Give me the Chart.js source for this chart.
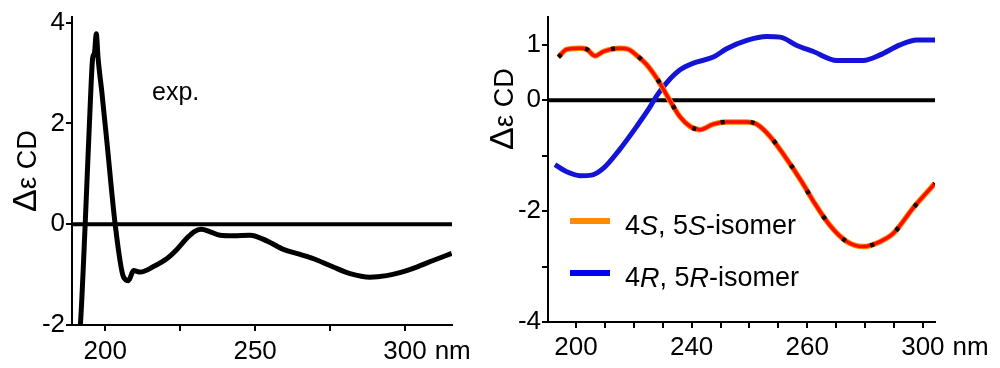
<!DOCTYPE html>
<html>
<head>
<meta charset="utf-8">
<script src="https://cdn.jsdelivr.net/npm/chart.js@4.4.1/dist/chart.umd.min.js"></script>
<style>
  html, body { margin: 0; padding: 0; background: #fff; }
  #wrap { position: relative; width: 1000px; height: 368px; overflow: hidden; }
  .panel { position: absolute; top: 0; }
</style>
</head>
<body>
<div id="wrap">
  <div class="panel" style="left:0"><canvas id="expChart" width="470" height="368"></canvas></div>
  <div class="panel" style="left:480px"><canvas id="calcChart" width="520" height="368"></canvas></div>
</div>
<script>
/* ── experimental spectrum (nm / Δε) ── */
const expNm = [190.6, 191.7, 193.3, 195.0, 195.8, 196.4, 197.0, 197.6, 198.9, 200.6, 203.3, 206.1, 207.8, 209.4, 211.7,
  216.1, 220.6, 223.9, 227.2, 229.6, 232.0, 235.0, 238.3, 242.8, 248.3, 253.9, 259.4, 265.0, 270.6, 276.1, 281.7, 288.3,
  293.9, 298.3, 303.9, 309.4, 315.6];
const expCd = [-2.6, -2.0, 0.0, 2.4, 3.3, 3.4, 3.78, 3.3, 2.6, 1.6, 0.0, -1.05, -1.12, -0.92, -0.95,
  -0.84, -0.68, -0.50, -0.28, -0.15, -0.10, -0.15, -0.22, -0.23, -0.22, -0.33, -0.50, -0.60, -0.71, -0.85, -0.98, -1.05,
  -1.02, -0.96, -0.85, -0.72, -0.58];
const expXTicks = [200, 225, 250, 275, 300];
const expXLabels = ['200', '', '250', '', '300'];
const expYTicks = [4, 2, 0, -2];

/* ── calculated spectra: x is the tick position on the printed axis ── */
const calcXTicks = [0, 1, 2, 3, 4, 5, 6, 7, 8, 9, 10, 11, 12];
const calcXLabels = ['200', '', '', '', '240', '', '', '', '260', '', '', '', '300'];
const calcYTicks = [1, 0, -1, -2, -3, -4];
const calcYLabels = ['1', '0', '', '-2', '', '-4'];

const ssPos = [-0.61, -0.32, 0.14, 0.37, 0.66, 0.94, 1.52, 1.81, 2.10, 2.45, 2.79, 3.02, 3.31, 3.60, 3.94, 4.29,
  4.75, 5.21, 5.91, 6.25, 6.71, 7.17, 7.81, 8.21, 8.79, 9.37, 9.94, 10.52, 10.98, 11.67, 12.42];
const ssCd = [0.78, 0.92, 0.94, 0.92, 0.80, 0.88, 0.94, 0.92, 0.81, 0.64, 0.40, 0.20, -0.06, -0.30, -0.47, -0.53,
  -0.43, -0.39, -0.39, -0.43, -0.65, -0.97, -1.47, -1.82, -2.26, -2.55, -2.64, -2.55, -2.40, -1.94, -1.50];

const rrPos = [-0.73, -0.32, 0.14, 0.54, 0.94, 1.52, 2.10, 2.56, 2.79, 3.14, 3.60, 4.06, 4.75, 5.21, 5.91, 6.60,
  7.06, 7.64, 8.21, 9.02, 9.94, 10.52, 11.21, 11.79, 12.42];
const rrCd = [-1.16, -1.29, -1.36, -1.35, -1.23, -0.88, -0.47, -0.12, 0.08, 0.32, 0.55, 0.67, 0.78, 0.93, 1.08, 1.15,
  1.14, 0.99, 0.88, 0.72, 0.72, 0.82, 1.00, 1.09, 1.09];

const FONT = "'Liberation Sans', Arial, sans-serif";
const pts = (xs, ys) => xs.map((x, i) => ({ x, y: ys[i] }));

function axisX(min, max, ticks, labels, h, pad){
  return {
    type: 'linear', min, max,
    afterBuildTicks: s => { s.ticks = ticks.map(v => ({ value: v })); },
    afterFit: s => { s.height = h; },
    ticks: { callback: (v, i) => labels[i], color: '#000', font: { family: FONT, size: 26 },
      padding: pad, maxRotation: 0, autoSkip: false },
    grid: { drawOnChartArea: false, drawTicks: true, tickLength: 6, color: '#000', lineWidth: 2 },
    border: { display: true, color: '#000', width: 2 }
  };
}
function axisY(min, max, ticks, labels, w){
  return {
    type: 'linear', min, max,
    afterBuildTicks: s => { s.ticks = ticks.map(v => ({ value: v })); },
    afterFit: s => { s.width = w; },
    ticks: { callback: (v, i) => labels[i], color: '#000', font: { family: FONT, size: 26 },
      padding: 1, autoSkip: false },
    grid: { drawOnChartArea: false, drawTicks: true, tickLength: 6, color: '#000', lineWidth: 2 },
    border: { display: true, color: '#000', width: 2 }
  };
}

/* ── free text: axis titles, "nm", legend ── */
function drawSegments(ctx, segs, x, y){
  segs.forEach(([txt, font]) => {
    ctx.font = font;
    ctx.fillText(txt, x, y);
    x += ctx.measureText(txt).width;
  });
}
const titleSegs = [['Δ', `34px ${FONT}`], ['ε', `28px ${FONT}`], [' CD', `27px ${FONT}`]];

function textPlugin(cfg){
  return {
    id: 'texts',
    afterDraw(chart){
      const ctx = chart.ctx;
      ctx.save();
      ctx.fillStyle = '#000';
      // y title, read bottom to top
      ctx.save();
      ctx.translate(cfg.titleX, cfg.titleY);
      ctx.rotate(-Math.PI / 2);
      ctx.textAlign = 'left';
      ctx.textBaseline = 'alphabetic';
      drawSegments(ctx, titleSegs, 0, 0);
      ctx.restore();
      // "nm" after the last x label
      const xs = chart.scales.x;
      const item = xs.getLabelItems().find(it => it.label === '300');
      if (item){
        ctx.font = item.font.string;
        ctx.textAlign = 'left';
        ctx.textBaseline = item.options.textBaseline;
        const [tx, ty] = item.options.translation;
        ctx.fillText('nm', tx + ctx.measureText('300').width / 2 + 8, ty + item.textOffset);
      }
      if (cfg.extra) cfg.extra(ctx, chart);
      ctx.restore();
    }
  };
}

new Chart(document.getElementById('expChart'), {
  type: 'line',
  data: {
    datasets: [
      { data: pts(expNm, expCd), borderColor: '#000', borderWidth: 5, pointRadius: 0,
        cubicInterpolationMode: 'monotone', order: 1 },
      { data: pts([188.9, 315.7], [0, 0]), borderColor: '#000', borderWidth: 4, pointRadius: 0, order: 2 }
    ]
  },
  options: {
    responsive: false, animation: false,
    layout: { padding: { top: 12, right: 18, left: 0, bottom: 0 } },
    plugins: { legend: { display: false }, tooltip: { enabled: false } },
    scales: {
      x: axisX(188.9, 315.7, expXTicks, expXLabels, 43, 5),
      y: axisY(-2, 4.12, expYTicks, expYTicks.map(String), 72)
    }
  },
  plugins: [textPlugin({
    titleX: 36, titleY: 212,
    extra: ctx => {
      ctx.font = `25px ${FONT}`;
      ctx.textAlign = 'left';
      ctx.textBaseline = 'alphabetic';
      ctx.fillText('exp.', 152, 100);
    }
  })]
});

new Chart(document.getElementById('calcChart'), {
  type: 'line',
  data: {
    datasets: [
      { data: pts(ssPos, ssCd), borderColor: 'rgba(0,0,0,.9)', borderWidth: 4.5, borderDash: [4, 26],
        pointRadius: 0, cubicInterpolationMode: 'monotone', order: 0 },
      { data: pts(ssPos, ssCd), borderColor: '#ff0a00', borderWidth: 3.5, pointRadius: 0,
        cubicInterpolationMode: 'monotone', order: 1 },
      { data: pts(ssPos, ssCd), borderColor: '#ff8a00', borderWidth: 5.5, pointRadius: 0,
        cubicInterpolationMode: 'monotone', order: 2 },
      { data: pts(rrPos, rrCd), borderColor: '#1414d8', borderWidth: 5, pointRadius: 0,
        cubicInterpolationMode: 'monotone', order: 3 },
      { data: pts([-0.97, 12.42], [0, 0]), borderColor: '#000', borderWidth: 4, pointRadius: 0, order: 4 }
    ]
  },
  options: {
    responsive: false, animation: false,
    layout: { padding: { top: 7, right: 65, left: 0, bottom: 0 } },
    plugins: { legend: { display: false }, tooltip: { enabled: false } },
    scales: {
      x: axisX(-0.97, 12.42, calcXTicks, calcXLabels, 46, 4),
      y: axisY(-4, 1.51, calcYTicks, calcYLabels, 68)
    }
  },
  plugins: [textPlugin({
    titleX: 33, titleY: 150,
    extra: (ctx, chart) => {
      const left = chart.chartArea.left;
      const rows = [
        { color: '#ff8a00', y: 221, segs: [['4', false], ['S', true], [', 5', false], ['S', true], ['-isomer', false]] },
        { color: '#0000f0', y: 273, segs: [['4', false], ['R', true], [', 5', false], ['R', true], ['-isomer', false]] }
      ];
      rows.forEach(r => {
        ctx.strokeStyle = r.color;
        ctx.lineWidth = 6;
        ctx.beginPath();
        ctx.moveTo(left + 22, r.y);
        ctx.lineTo(left + 62, r.y);
        ctx.stroke();
        ctx.fillStyle = '#000';
        ctx.textAlign = 'left';
        ctx.textBaseline = 'middle';
        const segs = r.segs.map(([t, it]) => [t, `${it ? 'italic ' : ''}27px ${FONT}`]);
        drawSegments(ctx, segs, left + 77, r.y + 6);
      });
    }
  })]
});
</script>
</body>
</html>
